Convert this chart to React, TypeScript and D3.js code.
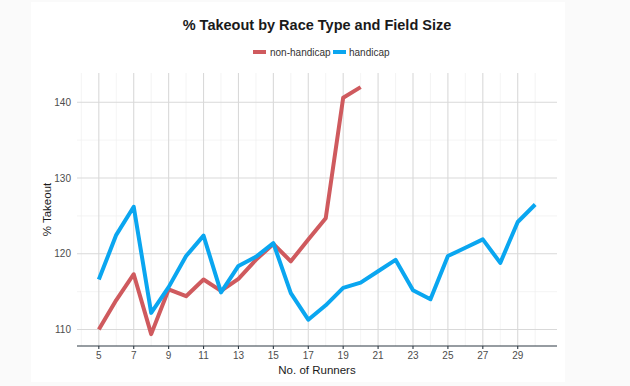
import React from "react";
import * as d3 from "d3";

const runners = [5,6,7,8,9,10,11,12,13,14,15,16,17,18,19,20,21,22,23,24,25,26,27,28,29,30];
const nonHandicapRunners = [5,6,7,8,9,10,11,12,13,14,15,16,17,18,19,20];
const nonHandicap = [110.0,113.9,117.3,109.4,115.3,114.4,116.6,115.1,116.7,119.2,121.3,119.0,121.9,124.7,140.6,142.0];
const handicap = [116.6,122.5,126.2,112.2,115.6,119.7,122.4,114.9,118.4,119.6,121.4,114.8,111.3,113.2,115.5,116.2,117.7,119.2,115.2,114.0,119.7,120.8,121.9,118.8,124.2,126.5];
const xTicks = [5,7,9,11,13,15,17,19,21,23,25,27,29];
const xMinor = [4,6,8,10,12,14,16,18,20,22,24,26,28,30];
const yTicks = [110,120,130,140];
const yMinor = [115,125,135];
const seriesNames = ["non-handicap","handicap"];
const colors = ["#cf5a5e","#0aa6f0"];

const W = 630, H = 386;
const L = 77, R = 557, T = 73, B = 346;

export default function App() {
  const x = d3.scaleLinear().domain([3.75, 31.25]).range([L, R]);
  const y = d3.scaleLinear().domain([107.83, 143.86]).range([B, T]);
  const line = d3.line<[number, number]>().x(d => x(d[0])).y(d => y(d[1]));
  const redPts: [number, number][] = nonHandicapRunners.map((r, i) => [r, nonHandicap[i]]);
  const bluePts: [number, number][] = runners.map((r, i) => [r, handicap[i]]);
  const font = "'Liberation Sans', Arial, sans-serif";
  return (
    <div style={{ position: "fixed", left: 0, top: 0 }}>
      <svg width={W} height={H} style={{ display: "block", fontFamily: font }}>
        <rect x={0} y={0} width={W} height={H} fill="#fafafa" />
        <rect x={31} y={2} width={534} height={380} fill="#ffffff" />
        {yMinor.map(v => (
          <line key={"ym" + v} x1={L} x2={R} y1={y(v)} y2={y(v)} stroke="#efefef" strokeWidth={0.7} />
        ))}
        {xMinor.map(v => (
          <line key={"xm" + v} x1={x(v)} x2={x(v)} y1={T} y2={B} stroke="#efefef" strokeWidth={0.7} />
        ))}
        {yTicks.map(v => (
          <line key={"yg" + v} x1={L} x2={R} y1={y(v)} y2={y(v)} stroke="#d9d9d9" strokeWidth={1.1} />
        ))}
        {xTicks.map(v => (
          <line key={"xg" + v} x1={x(v)} x2={x(v)} y1={T} y2={B} stroke="#d9d9d9" strokeWidth={1.1} />
        ))}
        <path d={line(redPts) || ""} fill="none" stroke={colors[0]} strokeWidth={4} strokeLinejoin="round" />
        <path d={line(bluePts) || ""} fill="none" stroke={colors[1]} strokeWidth={4} strokeLinejoin="round" />
        <line x1={L} x2={R} y1={B} y2={B} stroke="#2f3a45" strokeWidth={1.2} />
        {xTicks.map(v => (
          <g key={"xt" + v}>
            <line x1={x(v)} x2={x(v)} y1={B} y2={B + 3} stroke="#2f3a45" strokeWidth={1.1} />
            <text x={x(v)} y={B + 13} textAnchor="middle" fontSize={10} fill="#4d4d4d">{v}</text>
          </g>
        ))}
        {yTicks.map(v => (
          <text key={"yt" + v} x={71} y={y(v) + 3.5} textAnchor="end" fontSize={10} fill="#4d4d4d">{v}</text>
        ))}
        <text x={(L + R) / 2} y={374} textAnchor="middle" fontSize={11.5} fill="#1a1a1a">No. of Runners</text>
        <text transform={`translate(51,${(T + B) / 2}) rotate(-90)`} textAnchor="middle" fontSize={11.5} fill="#1a1a1a">% Takeout</text>
        <text x={317} y={30} textAnchor="middle" fontSize={14.5} fontWeight="bold" fill="#1a1a1a">% Takeout by Race Type and Field Size</text>
        <g>
          <line x1={253} x2={266} y1={52} y2={52} stroke={colors[0]} strokeWidth={4} />
          <text x={270} y={55.5} fontSize={10} fill="#333">{seriesNames[0]}</text>
          <line x1={333} x2={346} y1={52} y2={52} stroke={colors[1]} strokeWidth={4} />
          <text x={349} y={55.5} fontSize={10} fill="#333">{seriesNames[1]}</text>
        </g>
      </svg>
    </div>
  );
}
